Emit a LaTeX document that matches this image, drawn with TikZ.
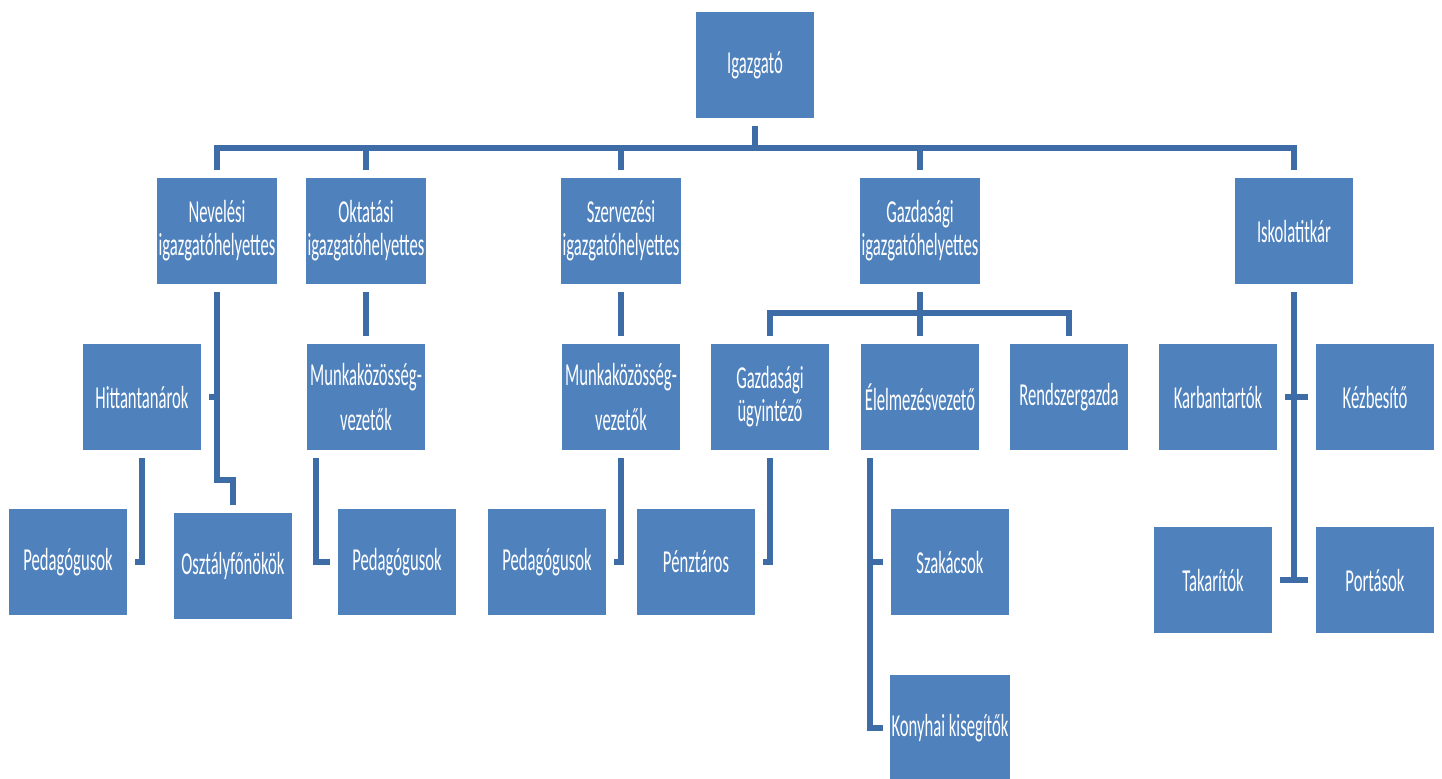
\documentclass[tikz,border=0pt]{standalone}
\usepackage{fontspec}
\setmainfont[FakeStretch=0.52]{Carlito}
\usepackage{tikz}
\definecolor{boxblue}{RGB}{79,129,189}
\definecolor{lineblue}{RGB}{62,108,166}

\begin{document}
\begin{tikzpicture}[x=0.5pt, y=-0.5pt,
  box/.style={rectangle, fill=boxblue, draw=white, line width=0.6pt, minimum width=60pt, minimum height=54pt, inner sep=1pt, outer sep=3.5pt, text=white, align=center, font=\fontsize{16}{16.5}\selectfont},
  link/.style={draw=lineblue, line width=2.8pt}]
\useasboundingbox (0,0) rectangle (1442,778);

% Top and first level
\node[box] (ig) at (755,65) {Igazgató};
\node[box] (nev) at (217,231) {Nevelési\\igazgatóhelyettes};
\node[box] (okt) at (366,231) {Oktatási\\igazgatóhelyettes};
\node[box] (szer) at (621,231) {Szervezési\\igazgatóhelyettes};
\node[box] (gaz) at (920,231) {Gazdasági\\igazgatóhelyettes};
\node[box] (isk) at (1294,231) {Iskolatitkár};

% Second level
\node[box] (hit) at (142,397) {Hittantanárok};
\node[box] (mk1) at (366,397) {Munkaközösség-\\[6pt]vezetők};
\node[box] (mk2) at (621,397) {Munkaközösség-\\[6pt]vezetők};
\node[box] (gu) at (770,397) {Gazdasági\\ügyintéző};
\node[box] (ele) at (920,397) {Élelmezésvezető};
\node[box] (rsz) at (1069,397) {Rendszergazda};
\node[box] (kar) at (1218,397) {Karbantartók};
\node[box] (kez) at (1375,397) {Kézbesítő};

% Third level
\node[box] (ped1) at (68,562) {Pedagógusok};
\node[box] (osz) at (233,566) {Osztályfőnökök};
\node[box] (ped2) at (397,562) {Pedagógusok};
\node[box] (ped3) at (547,562) {Pedagógusok};
\node[box] (pen) at (696,562) {Pénztáros};
\node[box] (sza) at (950,562) {Szakácsok};
\node[box] (tak) at (1213,580) {Takarítók};
\node[box] (por) at (1375,580) {Portások};
\node[box] (kon) at (950,728) {Konyhai kisegítők};

% Bends
\coordinate (bus1) at (755,148);
\coordinate (bus2) at (920,313);
\coordinate (nevk) at (217,480);

% Connectors
\draw[link] (ig) -- (bus1);
\foreach \n in {nev,okt,szer,gaz,isk}
  \draw[link] (bus1) -| (\n.north);
\draw[link] (nev.south) |- (hit.east);
\draw[link] (nev.south) -- (nevk) -| (osz.north);
\draw[link] (hit.south) |- (ped1.east);
\draw[link] (okt) -- (mk1);
\draw[link] ([xshift=8.5pt]mk1.south west) |- (ped2.west);
\draw[link] (szer) -- (mk2);
\draw[link] (mk2.south) |- (ped3.east);
\draw[link] (gaz) -- (bus2);
\foreach \n in {gu,ele,rsz}
  \draw[link] (bus2) -| (\n.north);
\draw[link] (gu.south) |- (pen.east);
\draw[link] ([xshift=8.5pt]ele.south west) |- (sza.west);
\draw[link] ([xshift=8.5pt]ele.south west) |- (kon.west);
\foreach \n/\a in {kar/east,kez/west,tak/east,por/west}
  \draw[link] (isk.south) |- (\n.\a);
\end{tikzpicture}
\end{document}
